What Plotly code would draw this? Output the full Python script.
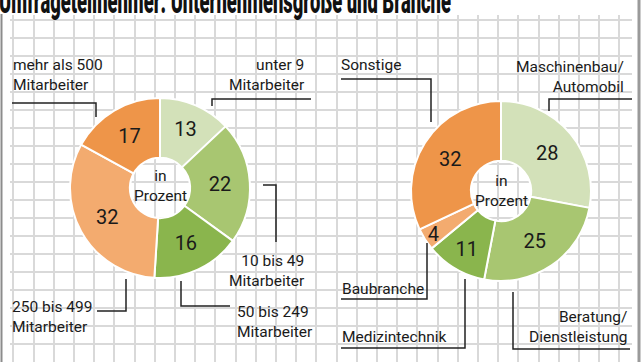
import plotly.graph_objects as go

# ---- data ----
size_labels = ["unter 9<br>Mitarbeiter", "10 bis 49<br>Mitarbeiter", "50 bis 249<br>Mitarbeiter",
               "250 bis 499<br>Mitarbeiter", "mehr als 500<br>Mitarbeiter"]
size_values = [13, 22, 16, 32, 17]
branch_labels = ["Maschinenbau/<br>Automobil", "Beratung/<br>Dienstleistung", "Medizintechnik",
                 "Baubranche", "Sonstige"]
branch_values = [28, 25, 11, 4, 32]
title_text = "Umfrageteilnehmer: Unternehmensgröße und Branche"
center_text = "in<br>Prozent"

# ---- styles ----
W, H = 644, 362
FONT = "Roboto, Liberation Sans, sans-serif"
TXT = "#1a1a1a"
LIGHT_GREEN = "#d3e1b9"
MID_GREEN = "#a8c671"
GREEN = "#8ab54d"
LIGHT_ORANGE = "#f3ab6f"
ORANGE = "#ee9549"
size_colors = [LIGHT_GREEN, MID_GREEN, GREEN, LIGHT_ORANGE, ORANGE]
branch_colors = [LIGHT_GREEN, MID_GREEN, GREEN, LIGHT_ORANGE, ORANGE]

# pie geometry in pixels: (cx, cy, r)
left_pie = (160, 188, 90)
right_pie = (501, 191, 90)


def dom(cx, cy, r):
    return dict(x=[(cx - r) / W, (cx + r) / W], y=[1 - (cy + r) / H, 1 - (cy - r) / H])


fig = go.Figure()
for (cx, cy, r), vals, labs, cols in [(left_pie, size_values, size_labels, size_colors),
                                       (right_pie, branch_values, branch_labels, branch_colors)]:
    fig.add_trace(go.Pie(
        values=vals, labels=labs, text=[str(v) for v in vals],
        textinfo="text", textposition="inside", insidetextorientation="horizontal",
        sort=False, direction="clockwise", rotation=0, hole=0.335,
        marker=dict(colors=cols, line=dict(color="white", width=2)),
        textfont=dict(family=FONT, size=20, color=TXT),
        domain=dom(cx, cy, r), showlegend=False, hoverinfo="label+value",
    ))

annotations = []
# title first (index 0), horizontally condensed by post script
annotations.append(dict(text=title_text, x=-3 / W, y=1 - 1 / H, xref="paper", yref="paper",
                        xanchor="left", yanchor="middle", showarrow=False,
                        font=dict(family="Roboto, Liberation Sans, sans-serif", size=36,
                                  color="#111111", weight=900)))

# label annotations: (text, x, y, anchor)
label_pos = [
    (size_labels[4], 11, 75.5, "left"),
    (size_labels[0], 307, 75.5, "right"),
    (size_labels[1], 307, 271, "right"),
    (size_labels[2], 235, 322, "left"),
    (size_labels[3], 10, 317, "left"),
    (branch_labels[4], 339, 65, "left"),
    (branch_labels[0], 626, 77, "right"),
    (branch_labels[3], 340, 288.5, "left"),
    (branch_labels[2], 340, 337, "left"),
    (branch_labels[1], 629, 326.5, "right"),
]
for t, x, y, a in label_pos:
    annotations.append(dict(text=t, x=x, y=y, xref="x", yref="y", xanchor=a, yanchor="middle",
                            align=a, showarrow=False, font=dict(family=FONT, size=15.5, color=TXT)))
for cx, cy in [(left_pie[0], 186.5), (right_pie[0], 191.5)]:
    annotations.append(dict(text=center_text, x=cx, y=cy, xref="x", yref="y", showarrow=False,
                            font=dict(family=FONT, size=15.5, color=TXT)))

leaders = [
    [(12, 103), (96, 103), (96, 117)],
    [(311, 99), (212, 99), (212, 106)],
    [(263, 185), (276, 185), (276, 242)],
    [(181, 281), (181, 306), (230, 306)],
    [(97, 311), (126, 311), (126, 279)],
    [(341, 79), (431, 79), (431, 122)],
    [(632, 99), (549, 99), (549, 111)],
    [(341, 299), (427, 299), (427, 243)],
    [(341, 348), (465, 348), (465, 279)],
    [(630, 349), (513, 349), (513, 292)],
]
shapes = []
for pts in leaders:
    path = "M " + " L ".join(f"{x},{y}" for x, y in pts)
    shapes.append(dict(type="path", path=path, xref="x", yref="y",
                       line=dict(color="#222222", width=1.5)))
# frame borders
shapes.append(dict(type="line", xref="paper", yref="paper", x0=1.5 / W, x1=1.5 / W, y0=0, y1=1 - 14 / H,
                   line=dict(color="#8c8c8c", width=2)))
shapes.append(dict(type="line", xref="paper", yref="paper", x0=639 / W, x1=639 / W, y0=0, y1=1,
                   line=dict(color="#9a9a9a", width=3)))

fig.update_layout(
    width=W, height=H, margin=dict(l=0, r=0, t=0, b=0),
    paper_bgcolor="white", plot_bgcolor="white",
    xaxis=dict(domain=[10 / W, 632 / W], range=[10, 632], tick0=13.3, dtick=20.2,
               showgrid=True, gridcolor="#d9d9d9", gridwidth=1.5, zeroline=False,
               showticklabels=False, ticks="", showline=False, fixedrange=True),
    yaxis=dict(domain=[0, 1 - 15 / H], range=[362, 15], tick0=2, dtick=18,
               showgrid=True, gridcolor="#d9d9d9", gridwidth=1.5, zeroline=False,
               showticklabels=False, ticks="", showline=False, fixedrange=True),
    annotations=annotations, shapes=shapes,
    uniformtext=dict(minsize=20, mode="show"),
)

post = """
document.body.style.margin = '0';
var gd = document.getElementById('{plot_id}');
var t = gd.querySelector('g.annotation[data-index="0"] text');
if (t) {
  var b = t.getBBox();
  var s = 452 / b.width;
  t.setAttribute('transform', 'translate(' + b.x + ',0) scale(' + s + ',1) translate(' + (-b.x) + ',0)');
}
"""
fig.write_html("out.html", post_script=post, config={"displayModeBar": False})
